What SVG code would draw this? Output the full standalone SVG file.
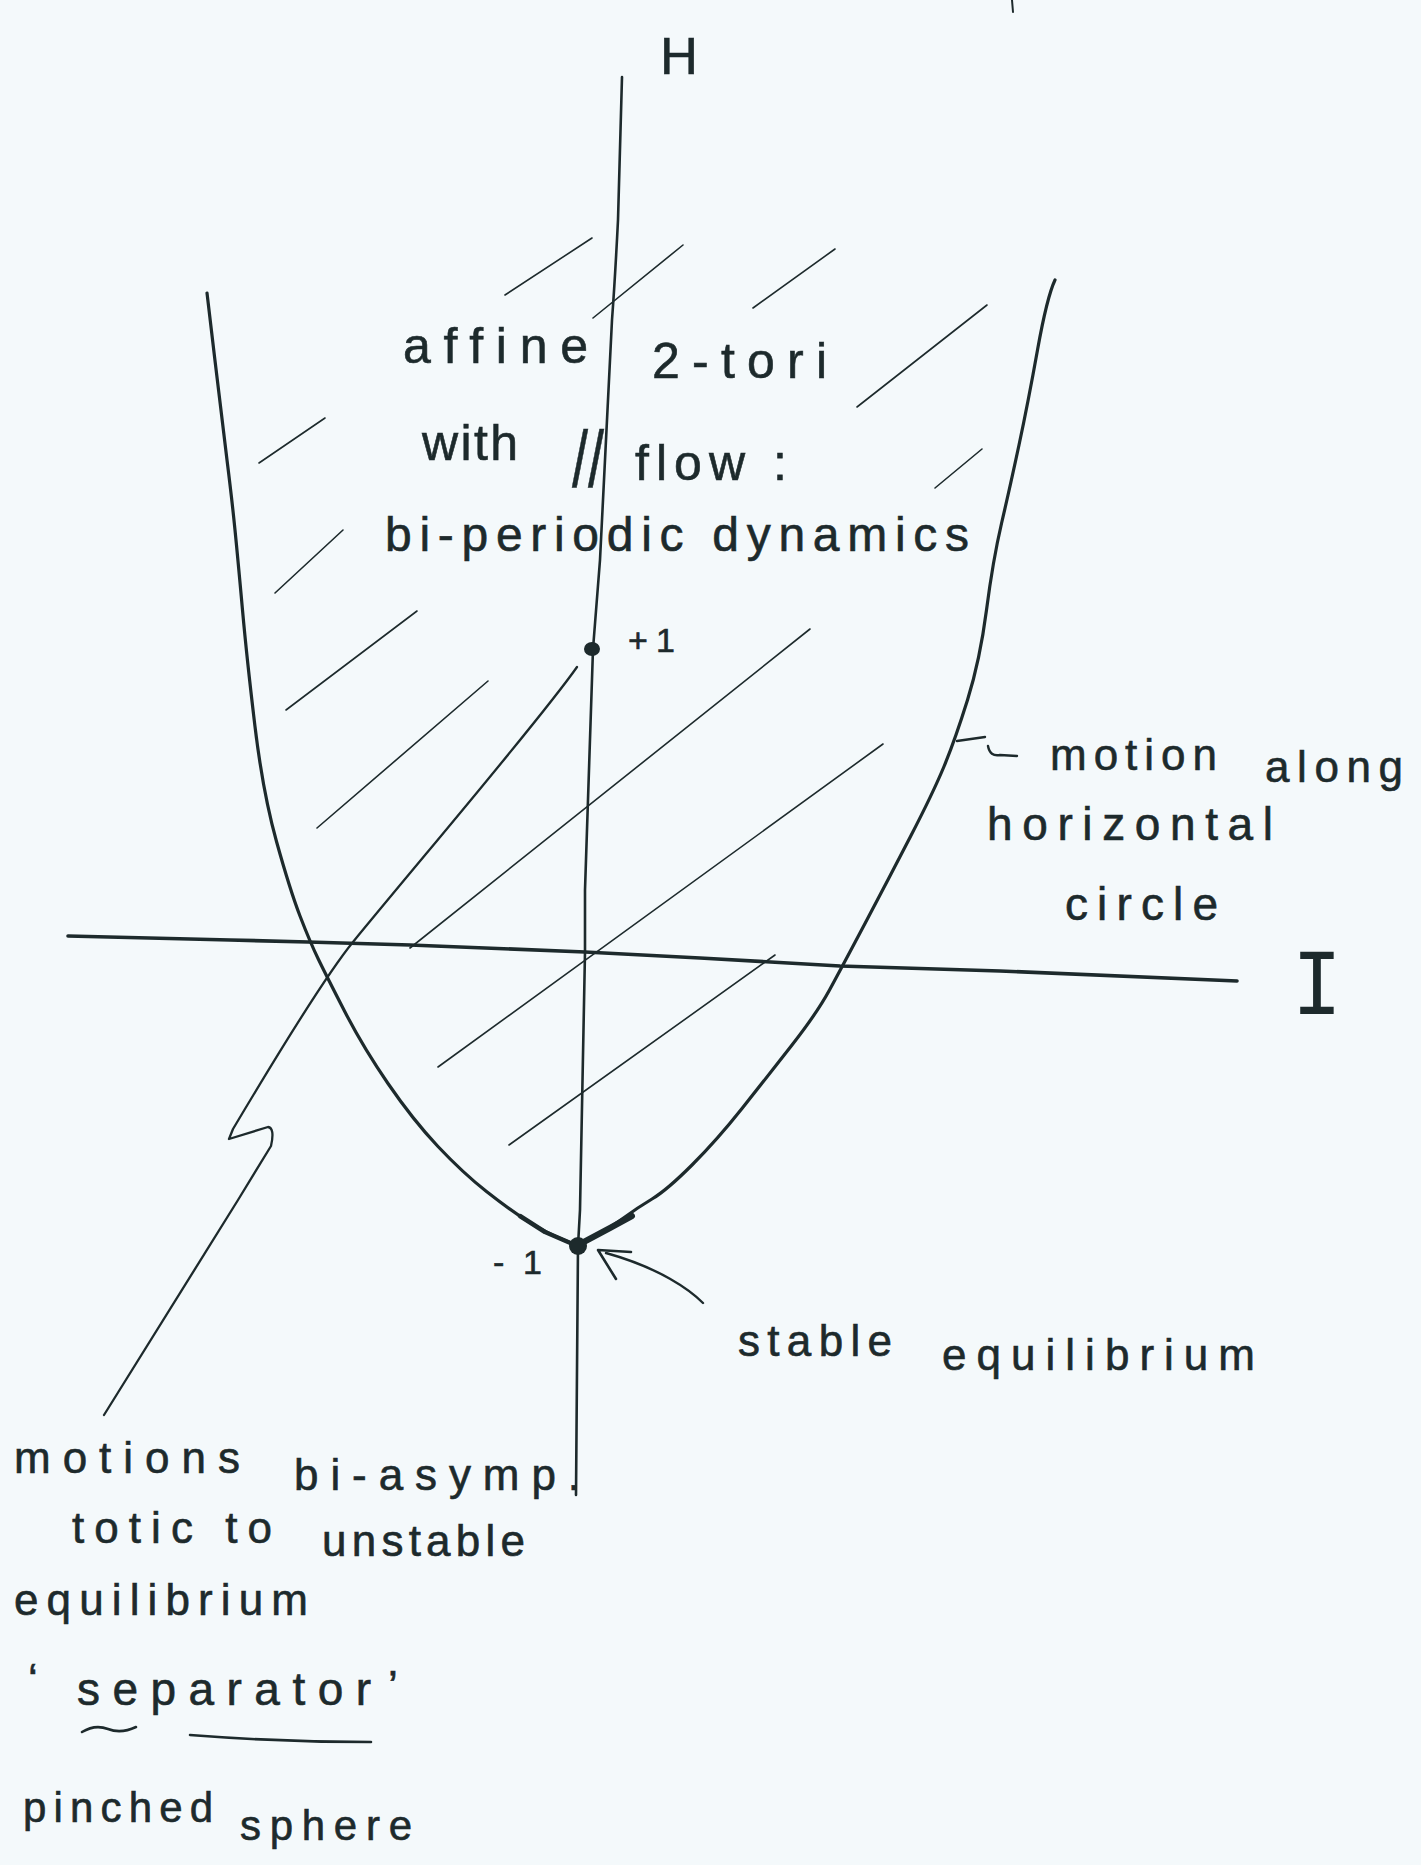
<svg xmlns="http://www.w3.org/2000/svg" width="1421" height="1865" viewBox="0 0 1421 1865">
<style>
.ink{fill:none;stroke:#1d2a2c;stroke-linecap:round;stroke-linejoin:round}
.t{font-family:"Liberation Sans",Arial,sans-serif;fill:#1d2a2c;stroke:#1d2a2c;stroke-width:0.6}
</style>
<rect width="1421" height="1865" fill="#f4f9fb"/>
<g id="axes">
<path class="ink" stroke-width="2.6" d="M622,77 L618,220 Q615,280 612,320 L600,560 L593,649 L585,890 L585,952 L580,1210 L578,1246 L576,1495"/>
<path class="ink" stroke-width="3.6" d="M68,936 L230,940 L308,942 L410,945 L585,952 L700,958 L840,966 L1000,971 L1237,981"/>
<text class="t" x="660" y="74" font-size="52" textLength="38" lengthAdjust="spacingAndGlyphs" stroke-width="0">H</text>
<text x="1292" y="1014" font-family="'Liberation Mono',monospace" font-size="94" fill="#1d2a2c" textLength="50" lengthAdjust="spacingAndGlyphs">I</text>
<path class="ink" stroke-width="2" d="M1012,0 L1013,12"/>
</g>
<g id="parabola">
<path class="ink" stroke-width="3.2" d="M207,293 L214.5,356.5 Q222,420 227,460 Q232,500 235,530 Q238,560 242.5,610 Q247,660 255,726.5 Q263,793 276.5,841.5 Q290,890 300,916 Q310,942 318.5,959.5 Q327,977 345,1012 Q363,1047 388,1083.5 Q413,1120 438,1146.5 Q463,1173 486.5,1191.5 Q510,1210 527.5,1221 Q545,1232 561.5,1239 L578,1246 L594,1237 Q610,1228 623.5,1218 Q637,1208 652,1199 Q667,1190 692,1165 Q717,1140 742,1108.5 Q767,1077 792,1045 Q817,1013 829.5,990 Q842,967 865,923.5 Q888,880 910.5,836.5 Q933,793 944,766.5 Q955,740 967.5,700 Q980,660 986.5,610 Q993,560 1001.5,523.5 Q1010,487 1019,445 Q1028,403 1037.5,350 Q1047,297 1055,280"/>
<path class="ink" stroke-width="6" d="M580,1244 L610,1228 L632,1216"/>
<path class="ink" stroke-width="4.5" d="M520,1216 L545,1232 L575,1245"/>
</g>
<g id="hatching" class="ink" stroke-width="1.6">
<line x1="505" y1="295" x2="592" y2="238"/>
<line x1="593" y1="318" x2="683" y2="245"/>
<line x1="753" y1="308" x2="835" y2="249"/>
<line x1="857" y1="407" x2="987" y2="305"/>
<line x1="935" y1="488" x2="982" y2="449"/>
<line x1="259" y1="463" x2="325" y2="418"/>
<line x1="275" y1="593" x2="343" y2="530"/>
<line x1="286" y1="710" x2="417" y2="611"/>
<line x1="317" y1="828" x2="488" y2="681"/>
<line x1="410" y1="948" x2="810" y2="629"/>
<line x1="438" y1="1067" x2="883" y2="744"/>
<line x1="509" y1="1145" x2="775" y2="955"/>
</g>
<g id="separatrix">
<path class="ink" stroke-width="2.3" d="M577,667 C540,720 420,860 353,942 C326,975 280,1050 233,1129 L229,1139 L268,1127 Q275,1128 271,1146 L238,1200 L104,1415"/>
</g>
<g id="points">
<ellipse cx="592" cy="649" rx="8" ry="7" fill="#1d2a2c"/>
<circle cx="578" cy="1246" r="9" fill="#1d2a2c"/>
<text class="t" x="628" y="652" font-size="34" textLength="47">+1</text>
<text class="t" x="493" y="1274" font-size="34" textLength="49">-1</text>
</g>
<g id="connectors">
<path class="ink" stroke-width="2.4" d="M957,741 L985,737 M988,746 Q990,757 1000,755 L1017,756"/>
<path class="ink" stroke-width="2.4" d="M703,1303 C690,1290 660,1268 606,1253"/>
<path class="ink" stroke-width="2.6" d="M631,1252 L598,1250 L616,1279"/>
</g>
<g id="label-tori">
<text class="t" x="403" y="363" font-size="50" textLength="185">affine</text>
<text class="t" x="652" y="378" font-size="50" textLength="175">2-tori</text>
<text class="t" x="422" y="460" font-size="50" textLength="96">with</text>
<text class="t" x="572" y="487" font-size="80" textLength="32" lengthAdjust="spacingAndGlyphs">//</text>
<text class="t" x="635" y="480" font-size="50" textLength="152">flow :</text>
<text class="t" x="385" y="551" font-size="48" textLength="584">bi-periodic dynamics</text>
</g>
<g id="label-motion">
<text class="t" x="1050" y="770" font-size="44" textLength="167">motion</text>
<text class="t" x="1265" y="782" font-size="44" textLength="138">along</text>
<text class="t" x="987" y="840" font-size="46" textLength="286">horizontal</text>
<text class="t" x="1065" y="920" font-size="46" textLength="153">circle</text>
</g>
<g id="label-stable">
<text class="t" x="738" y="1356" font-size="44" textLength="154">stable</text>
<text class="t" x="942" y="1370" font-size="44" textLength="313">equilibrium</text>
</g>
<g id="label-separatrix">
<text class="t" x="14" y="1473" font-size="44" textLength="226">motions</text>
<text class="t" x="294" y="1490" font-size="44" textLength="286">bi-asymp.</text>
<text class="t" x="72" y="1543" font-size="44" textLength="200">totic to</text>
<text class="t" x="322" y="1556" font-size="44" textLength="203">unstable</text>
<text class="t" x="14" y="1615" font-size="44" textLength="294">equilibrium</text>
<text class="t" x="28" y="1695" font-size="44">‘</text>
<text class="t" x="77" y="1705" font-size="46" textLength="294">separator</text>
<text class="t" x="388" y="1702" font-size="44">’</text>
<path class="ink" stroke-width="2.6" d="M82,1732 Q95,1724 108,1729 Q121,1734 136,1727"/>
<path class="ink" stroke-width="2.6" d="M190,1735 Q280,1742 371,1742"/>
<text class="t" x="23" y="1822" font-size="42" textLength="190">pinched</text>
<text class="t" x="240" y="1840" font-size="42" textLength="172">sphere</text>
</g>
</svg>
